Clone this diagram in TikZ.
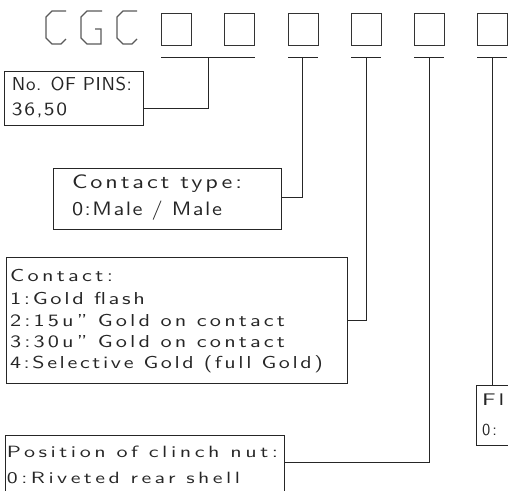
\documentclass[tikz,border=0pt]{standalone}
\usepackage{fontspec}
\usepackage{graphicx}
\newfontfamily\cad{lmsans10-regular.otf}[Ligatures=TeX]
\newcommand\fitline[3]{\resizebox{#1pt}{\height}{\addfontfeatures{LetterSpace=#2}#3}}
\tikzset{
  ln/.style={line width=0.9pt, draw=black!85},
  digit/.style={line width=1.3pt, draw=black!65, line join=miter},
  dbox/.style={draw=black!80, line width=1.2pt, minimum width=30pt, minimum height=32pt, inner sep=0pt, anchor=north west},
  lbox/.style={draw=black!85, line width=0.9pt, inner sep=0pt, anchor=north west},
  txt/.style={anchor=base west, inner sep=0pt, outer sep=0pt, text=black!85},
}
\begin{document}
\begin{tikzpicture}[x=1pt,y=-1pt]
\useasboundingbox (0,0) rectangle (508,490);
\clip (0,0) rectangle (508,490);
% CGC letters
\draw[digit] (66,11) -- (52,11) -- (46,17) -- (46,38) -- (52,44) -- (61,44) -- (66,39);
\draw[digit] (102,11) -- (87,11) -- (81,17) -- (81,38) -- (87,44) -- (101,44) -- (101,29) -- (95,29);
\draw[digit] (137,11) -- (123,11) -- (117,17) -- (117,38) -- (123,44) -- (132,44) -- (137,39);
% digit boxes
\node[dbox] (d1) at (161,13) {};
\node[dbox] (d2) at (224,13) {};
\node[dbox] (d3) at (288,13) {};
\node[dbox] (d4) at (351,13) {};
\node[dbox] (d5) at (414,13) {};
\node[dbox] (d6) at (477,13) {};
% underlines
\coordinate (u1a) at (161,57); \coordinate (u1b) at (255,57); \coordinate (j1) at (208,57);
\coordinate (u2a) at (288,57); \coordinate (u2b) at (318,57); \coordinate (j2) at (302.5,57);
\coordinate (u3a) at (351,57); \coordinate (u3b) at (381,57); \coordinate (j3) at (366,57);
\coordinate (u4a) at (414,57); \coordinate (u4b) at (444,57); \coordinate (j4) at (429,57);
\coordinate (u5a) at (477,57); \coordinate (u5b) at (507,57); \coordinate (j5) at (492,57);
\draw[ln] (u1a) -- (u1b);
\draw[ln] (u2a) -- (u2b);
\draw[ln] (u3a) -- (u3b);
\draw[ln] (u4a) -- (u4b);
\draw[ln] (u5a) -- (u5b);
% label boxes
\node[lbox, minimum width=139pt, minimum height=54pt] (b1) at (4,71) {};
\node[lbox, minimum width=228pt, minimum height=61pt] (b2) at (53,168) {};
\node[lbox, minimum width=341pt, minimum height=126pt] (b3) at (6,257) {};
\node[lbox, minimum width=279pt, minimum height=80pt] (b4) at (5,435) {};
\node[lbox, minimum width=60pt, minimum height=60pt] (b5) at (476,385) {};
% connector end points on the boxes
\coordinate (e1) at (143,108.5);
\coordinate (e2) at (281,197);
\coordinate (e3) at (347,320);
\coordinate (e4) at (284,462);
\draw[ln] (j1) |- (e1);
\draw[ln] (j2) |- (e2);
\draw[ln] (j3) |- (e3);
\draw[ln] (j4) |- (e4);
\draw[ln] (j5) -- (b5.north west -| j5);
% texts
\begin{scope}[every node/.append style={txt}]
\node[font=\cad\fontsize{18.7}{20}\selectfont] (t11) at (12,90) {\fitline{120}{3}{No. OF PINS:}};
\node[font=\cad\fontsize{18.7}{20}\selectfont] (t12) at (12,115) {\fitline{55}{7}{36,50}};
\node[font=\cad\fontsize{19.4}{20}\selectfont] (t21) at (72,188) {\fitline{170}{12}{Contact type:}};
\node[font=\cad\fontsize{19.4}{20}\selectfont] (t22) at (72,215) {\fitline{150}{7}{0:Male / Male}};
\node[font=\cad\fontsize{17.3}{18}\selectfont] (t31) at (10,281) {\fitline{103}{15}{Contact:}};
\node[font=\cad\fontsize{17.3}{18}\selectfont] (t32) at (10,304) {\fitline{135}{12}{1:Gold flash}};
\node[font=\cad\fontsize{17.3}{18}\selectfont] (t33) at (10,326) {\fitline{275}{14}{2:15u'' Gold on contact}};
\node[font=\cad\fontsize{17.3}{18}\selectfont] (t34) at (10,347) {\fitline{275}{14}{3:30u'' Gold on contact}};
\node[font=\cad\fontsize{17.3}{18}\selectfont] (t35) at (10,368) {\fitline{313}{12}{4:Selective Gold (full Gold)}};
\node[font=\cad\fontsize{16.3}{18}\selectfont] (t41) at (7,457) {\fitline{271}{16}{Position of clinch nut:}};
\node[font=\cad\fontsize{16.3}{18}\selectfont] (t42) at (7,483) {\fitline{233}{16}{0:Riveted rear shell}};
\node[font=\cad\fontsize{16.8}{18}\selectfont] (t51) at (482,405) {\fitline{37}{13}{Fla}};
\node[font=\cad\fontsize{16.8}{18}\selectfont] (t52) at (482,435) {\fitline{15}{13}{0:}};
\end{scope}
\end{tikzpicture}
\end{document}
